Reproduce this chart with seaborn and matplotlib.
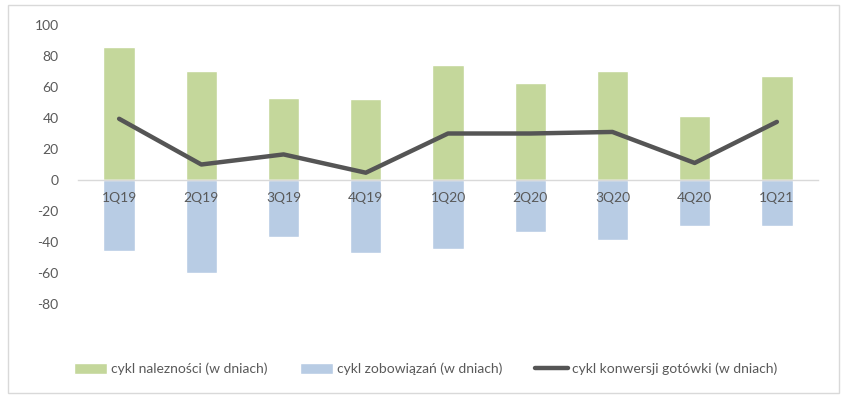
import pandas as pd
import numpy as np
import matplotlib
matplotlib.use("Agg")
import matplotlib.pyplot as plt
import seaborn as sns
from matplotlib.patches import Patch, Rectangle
from matplotlib.lines import Line2D

# data
quarters = ["1Q19", "2Q19", "3Q19", "4Q19", "1Q20", "2Q20", "3Q20", "4Q20", "1Q21"]
receivables = [86, 70, 53, 52, 74, 62.5, 70, 41, 67]
payables = [-46, -60, -37, -47, -44.5, -33.5, -38.5, -29.5, -29.5]
cash_cycle = [39.5, 10, 16.5, 4.7, 30, 30, 31, 11, 37.5]

GREEN = "#C4D79B"
BLUE = "#B8CCE4"
LINE = "#555555"
TEXT = "#595959"
GRID = "#D9D9D9"

sns.set_style("white")
plt.rcParams["font.family"] = ["Lato", "DejaVu Sans"]
plt.rcParams["axes.unicode_minus"] = False

df = pd.DataFrame({"kw": quarters, "nal": receivables, "zob": payables, "cykl": cash_cycle})

fig = plt.figure(figsize=(8.51, 3.96), dpi=100)
ax = fig.add_axes([78 / 851, 1 - 335 / 396, 740 / 851, 310 / 396])

sns.barplot(data=df, x="kw", y="nal", color=GREEN, width=0.38, saturation=1, ax=ax)
sns.barplot(data=df, x="kw", y="zob", color=BLUE, width=0.38, saturation=1, ax=ax)
sns.lineplot(data=df, x="kw", y="cykl", color=LINE, linewidth=3.2, sort=False, ax=ax, zorder=6)

ax.set_ylim(-100, 100)
ax.set_xlim(-0.5, len(quarters) - 0.5)
ax.set_yticks(np.arange(-80, 101, 20))
ax.set_xlabel("")
ax.set_ylabel("")

for s in ["top", "right", "left"]:
    ax.spines[s].set_visible(False)
ax.spines["bottom"].set_position(("data", 0))
ax.spines["bottom"].set_color(GRID)
ax.spines["bottom"].set_linewidth(1)
ax.spines["bottom"].set_zorder(3)
ax.tick_params(axis="x", length=0, pad=9, labelsize=10, labelcolor=TEXT)
ax.tick_params(axis="y", length=0, pad=14, labelsize=10, labelcolor=TEXT)
ax.xaxis.set_zorder(5)

handles = [
    Patch(facecolor=GREEN, label="cykl nalezności (w dniach)"),
    Patch(facecolor=BLUE, label="cykl zobowiązań (w dniach)"),
    Line2D([0], [0], color=LINE, linewidth=3.2, label="cykl konwersji gotówki (w dniach)"),
]
fig.legend(handles=handles, loc="center", bbox_to_anchor=(0.5, 1 - 369 / 396), ncol=3,
           frameon=False, fontsize=10, labelcolor=TEXT, handlelength=2.4,
           handleheight=0.75, handletextpad=0.3, columnspacing=2.3)

fig.patches.append(Rectangle((8 / 851, 1 - 393 / 396), 831 / 851, 388 / 396,
                             transform=fig.transFigure, fill=False,
                             edgecolor=GRID, linewidth=1))

fig.savefig("out.png", dpi=100)
